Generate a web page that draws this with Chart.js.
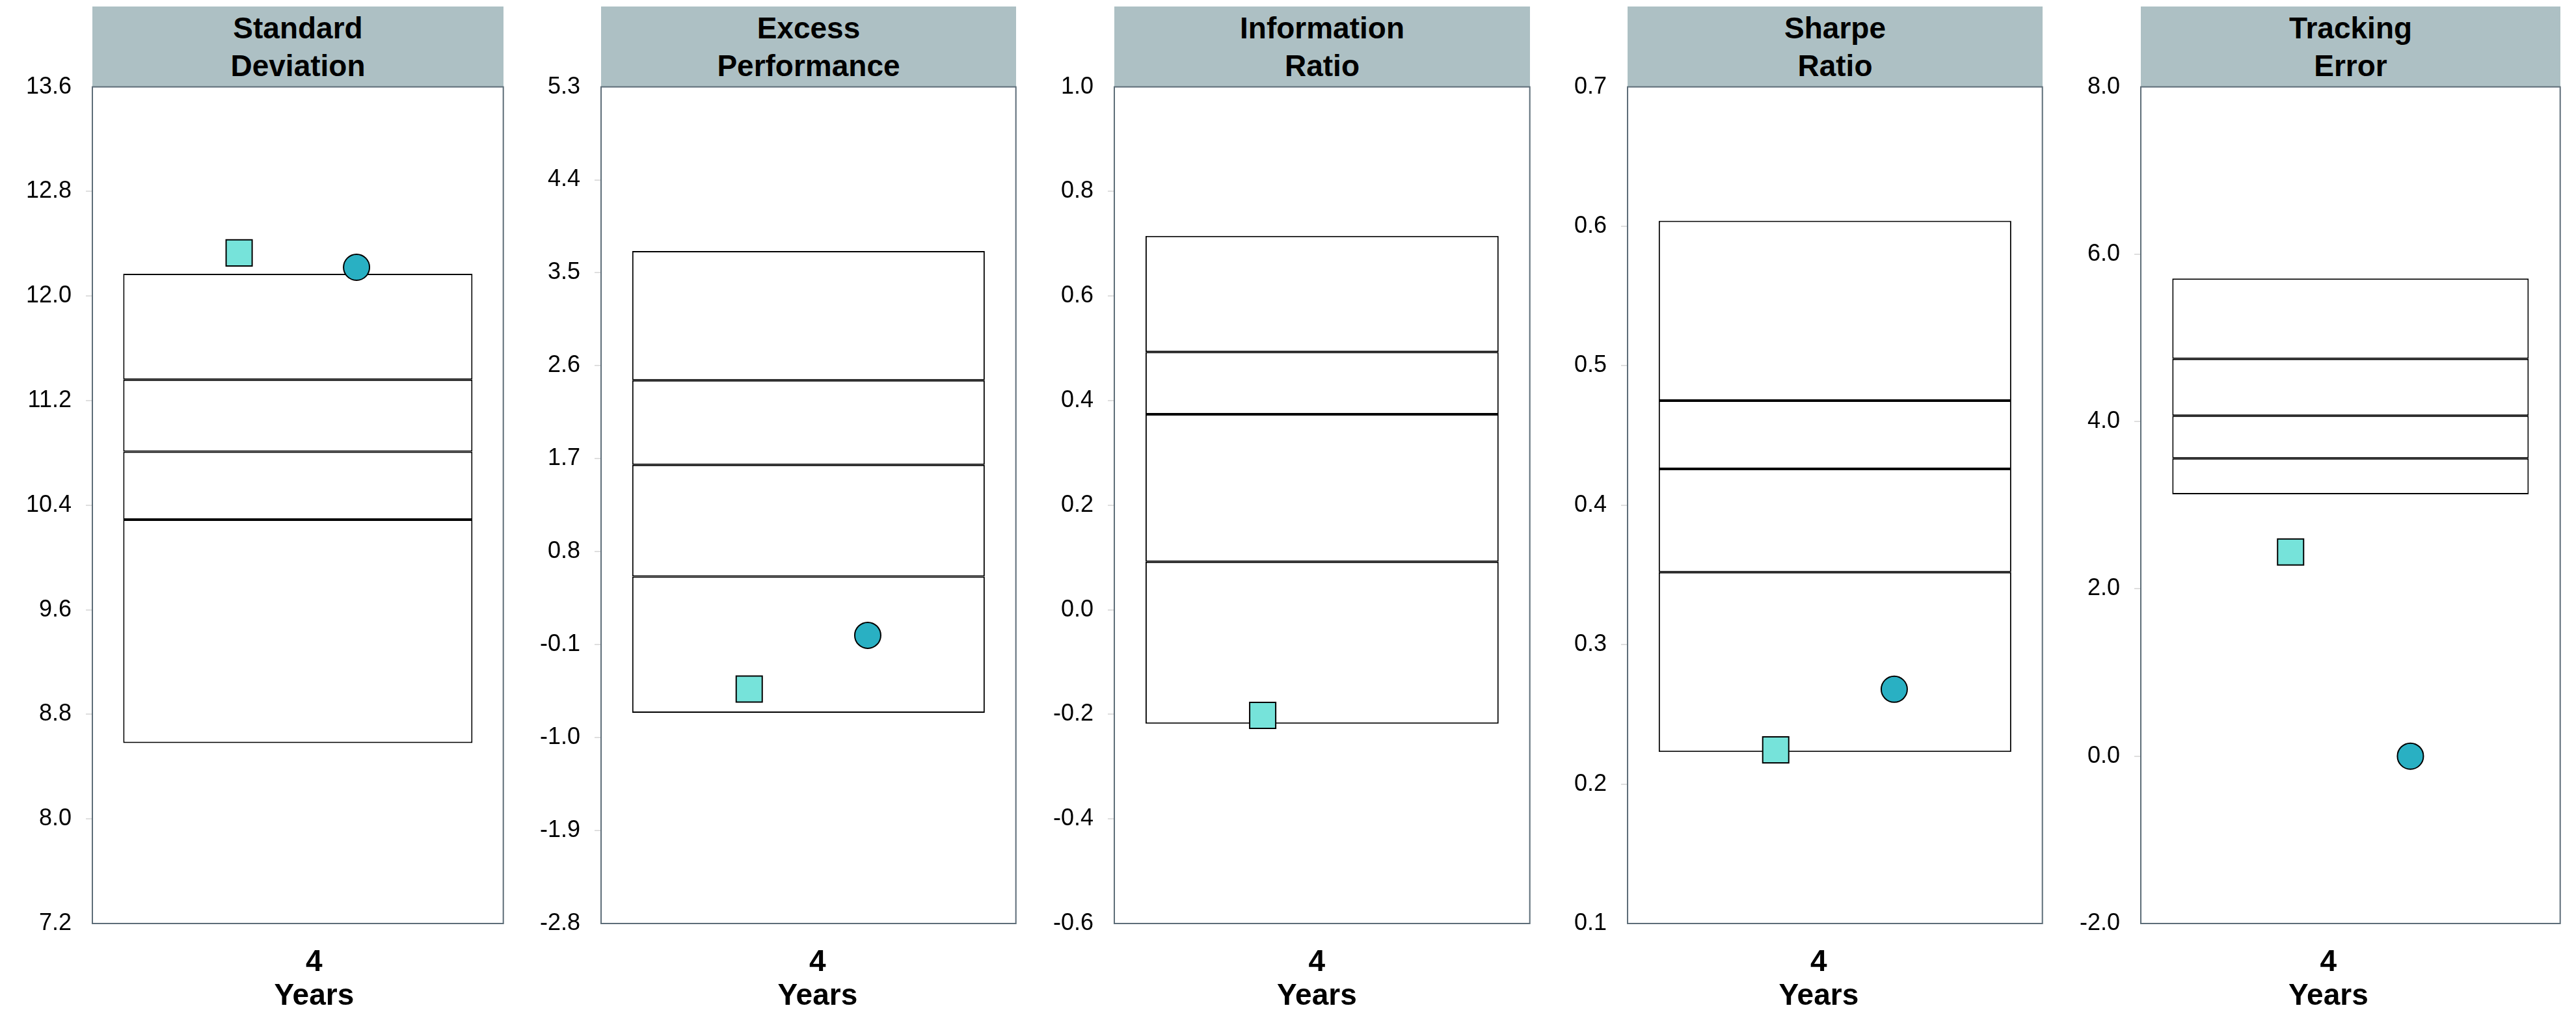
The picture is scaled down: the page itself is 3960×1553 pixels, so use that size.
<!DOCTYPE html>
<html>
<head>
<meta charset="utf-8">
<script src="https://cdn.jsdelivr.net/npm/chart.js@4.4.1/dist/chart.umd.min.js"></script>
<style>
  body { margin: 0; background: #fff; width: 3960px; height: 1553px; position: relative; overflow: hidden; font-family: "Liberation Sans", Arial, sans-serif; }
  .head { position: absolute; top: 10px; height: 124px; background: #adc0c4; display: flex; align-items: center; justify-content: center; text-align: center; font-weight: bold; font-size: 46px; line-height: 58px; color: #000; }
  canvas { position: absolute; }
</style>
</head>
<body>
<script>
// Data
const panelTitles = [['Standard', 'Deviation'], ['Excess', 'Performance'], ['Information', 'Ratio'], ['Sharpe', 'Ratio'], ['Tracking', 'Error']];
const categories = ['4'];
const axisTitle = 'Years';

const yMin = [7.2, -2.8, -0.6, 0.1, -2.0];
const yMax = [13.6, 5.3, 1.0, 0.7, 8.0];
const yStep = [0.8, 0.9, 0.2, 0.1, 2.0];

// box bands (low -> high)
const boxBottom = [8.58, -0.76, -0.218, 0.223, 3.13];
const boxQ1 = [10.29, 0.56, 0.092, 0.352, 3.56];
const boxMedian = [10.81, 1.64, 0.374, 0.426, 4.07];
const boxQ3 = [11.36, 2.46, 0.493, 0.475, 4.75];
const boxTop = [12.17, 3.71, 0.715, 0.604, 5.71];

// markers
const portfolioValues = [12.33, -0.53, -0.202, 0.2245, 2.44];
const benchmarkValues = [12.22, -0.01, null, 0.268, 0.0];

// Layout
const panelLeft = [142, 924, 1713, 2502, 3291];
const panelWidth = [632, 638, 639, 638, 645];
const labelShift = [25, 14, -8, -25, -34];
const PLOT_TOP = 134;
const PLOT_BOTTOM = 1421;
const AXIS_W = 142;
const X_AXIS_H = 132;
const PAD_TOP = 34;
const FONT = '"Liberation Sans", Arial, sans-serif';

Chart.defaults.font.family = FONT;

const framePlugin = {
    id: 'frame',
    beforeDatasetsDraw(chart) {
        const { ctx, chartArea: a } = chart;
        ctx.save();
        ctx.strokeStyle = '#5d6d78';
        ctx.lineWidth = 2;
        ctx.strokeRect(a.left, a.top, a.right - a.left, a.bottom - a.top);
        ctx.restore();
    }
};

function boxSet(lo, hi) {
    return {
        type: 'bar',
        xAxisID: 'x',
        data: [[lo, hi]],
        backgroundColor: '#ffffff',
        borderColor: '#000000',
        borderWidth: 2,
        borderSkipped: false,
        grouped: false,
        barPercentage: 0.85,
        categoryPercentage: 1,
        order: 1
    };
}

function makeChart(canvas, i) {
    const nTicks = Math.round((yMax[i] - yMin[i]) / yStep[i]);
    return new Chart(canvas, {
        type: 'bar',
        data: {
            labels: categories,
            datasets: [
                {
                    type: 'scatter',
                    xAxisID: 'xp',
                    data: [{ x: 0, y: portfolioValues[i] }],
                    pointStyle: 'rect',
                    pointRadius: 28.3,
                    backgroundColor: '#76e3da',
                    borderColor: '#000000',
                    borderWidth: 2,
                    order: 0
                },
                {
                    type: 'scatter',
                    xAxisID: 'xp',
                    data: [{ x: 1, y: benchmarkValues[i] }],
                    pointStyle: 'circle',
                    pointRadius: 20,
                    backgroundColor: '#29b0c3',
                    borderColor: '#000000',
                    borderWidth: 2,
                    order: 0
                },
                boxSet(boxBottom[i], boxQ1[i]),
                boxSet(boxQ1[i], boxMedian[i]),
                boxSet(boxMedian[i], boxQ3[i]),
                boxSet(boxQ3[i], boxTop[i])
            ]
        },
        options: {
            responsive: false,
            animation: false,
            layout: { padding: { top: PAD_TOP, right: 2, left: 0, bottom: 0 } },
            plugins: { legend: { display: false }, tooltip: { enabled: false } },
            scales: {
                x: {
                    type: 'category',
                    offset: true,
                    afterFit: s => { s.height = X_AXIS_H; },
                    grid: { display: false },
                    border: { display: false },
                    ticks: {
                        color: '#000',
                        maxRotation: 0,
                        padding: 26,
                        labelOffset: labelShift[i],
                        font: { family: FONT, size: 46, weight: 'bold', lineHeight: 1.13 },
                        callback: function (v) { return [this.getLabelForValue(v), axisTitle]; }
                    }
                },
                xp: {
                    type: 'linear',
                    display: false,
                    offset: false,
                    grid: { offset: false },
                    min: -1.25,
                    max: 2.25
                },
                y: {
                    min: yMin[i],
                    max: yMax[i],
                    afterFit: s => { s.width = AXIS_W; },
                    border: { display: false },
                    grid: {
                        drawOnChartArea: false,
                        drawTicks: true,
                        tickLength: 10,
                        lineWidth: 2,
                        color: c => (c.index === 0 || c.index === nTicks) ? 'rgba(0,0,0,0)' : '#dedede'
                    },
                    ticks: {
                        stepSize: yStep[i],
                        color: '#000',
                        padding: 22,
                        font: { family: FONT, size: 36 },
                        callback: v => Number(v).toFixed(1)
                    }
                }
            }
        },
        plugins: [framePlugin]
    });
}

for (let i = 0; i < panelTitles.length; i++) {
    // header
    const head = document.createElement('div');
    head.className = 'head';
    head.style.left = panelLeft[i] + 'px';
    head.style.width = panelWidth[i] + 'px';
    head.innerHTML = panelTitles[i].join('<br>');
    document.body.appendChild(head);

    // first pass: measure where the library puts the chart area
    let canvas = document.createElement('canvas');
    let w = AXIS_W + panelWidth[i] + 2;
    let h = PAD_TOP + (PLOT_BOTTOM - PLOT_TOP) + X_AXIS_H;
    canvas.width = w;
    canvas.height = h;
    document.body.appendChild(canvas);
    let chart = makeChart(canvas, i);
    const a = chart.chartArea;
    const extraW = panelWidth[i] - (a.right - a.left);
    const extraH = (PLOT_BOTTOM - PLOT_TOP) - (a.bottom - a.top);
    const left0 = a.left;
    const top0 = a.top;
    chart.destroy();
    canvas.remove();

    // second pass: sized so the plot frame sits under the header
    canvas = document.createElement('canvas');
    canvas.width = w + extraW;
    canvas.height = h + extraH;
    canvas.style.left = (panelLeft[i] - left0) + 'px';
    canvas.style.top = (PLOT_TOP - top0) + 'px';
    document.body.appendChild(canvas);
    makeChart(canvas, i);
}
</script>
</body>
</html>
